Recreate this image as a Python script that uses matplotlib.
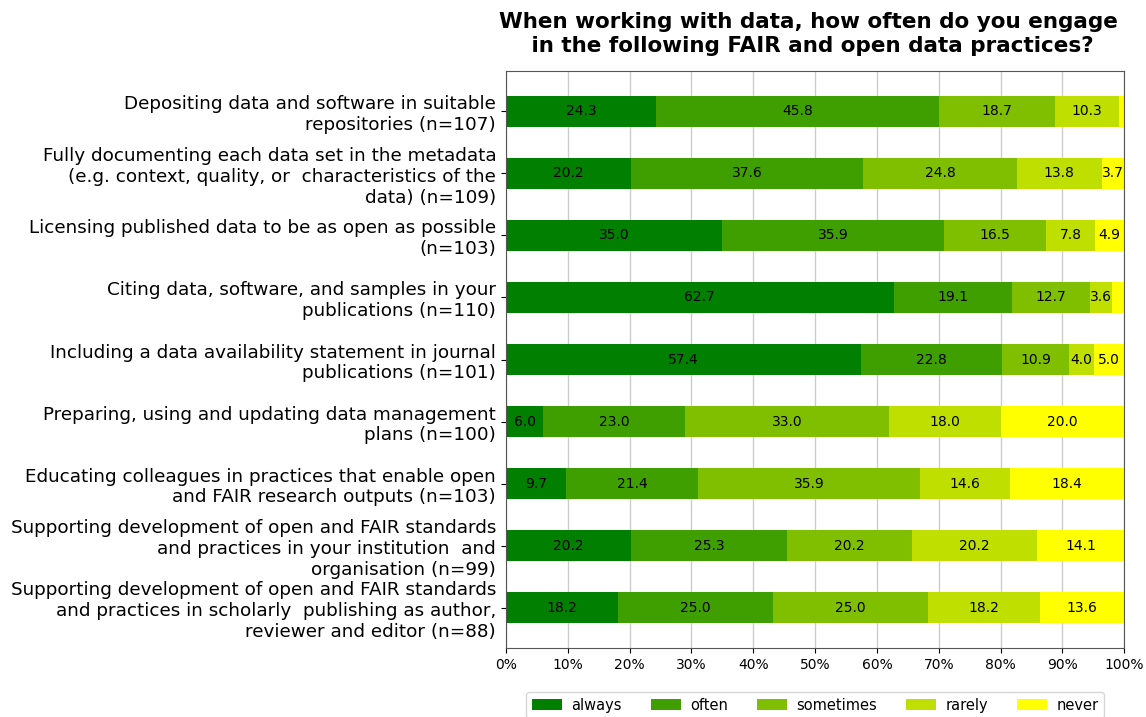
import numpy as np
import matplotlib
matplotlib.use('Agg')
import matplotlib.pyplot as plt

questions = [
    'Depositing data and software in suitable\nrepositories (n=107)',
    'Fully documenting each data set in the metadata\n(e.g. context, quality, or  characteristics of the\ndata) (n=109)',
    'Licensing published data to be as open as possible\n(n=103)',
    'Citing data, software, and samples in your\npublications (n=110)',
    'Including a data availability statement in journal\npublications (n=101)',
    'Preparing, using and updating data management\nplans (n=100)',
    'Educating colleagues in practices that enable open\nand FAIR research outputs (n=103)',
    'Supporting development of open and FAIR standards\nand practices in your institution  and\norganisation (n=99)',
    'Supporting development of open and FAIR standards\nand practices in scholarly  publishing as author,\nreviewer and editor (n=88)',
]
answers = ['always', 'often', 'sometimes', 'rarely', 'never']
always = [24.3, 20.2, 35.0, 62.7, 57.4, 6.0, 9.7, 20.2, 18.2]
often = [45.8, 37.6, 35.9, 19.1, 22.8, 23.0, 21.4, 25.3, 25.0]
sometimes = [18.7, 24.8, 16.5, 12.7, 10.9, 33.0, 35.9, 20.2, 25.0]
rarely = [10.3, 13.8, 7.8, 3.6, 4.0, 18.0, 14.6, 20.2, 18.2]
never = [0.9, 3.7, 4.9, 1.9, 5.0, 20.0, 18.4, 14.1, 13.6]
colors = ['#007f00', '#3f9f00', '#7fbf00', '#bfdf00', '#ffff00']

fig = plt.figure(figsize=(11.46, 7.17), dpi=100)
ax = fig.add_axes([0.4415, 0.0962, 0.5395, 0.8048])

y = np.arange(len(questions))
left = np.zeros(len(questions))
for name, vals, c in zip(answers, [always, often, sometimes, rarely, never], colors):
    vals = np.array(vals)
    bars = ax.barh(y, vals, left=left, height=0.5, color=c, label=name, zorder=2)
    labels = ['%.1f' % v if v >= 3 else '' for v in vals]
    ax.bar_label(bars, labels=labels, label_type='center', fontsize=10)
    left += vals

ax.set_xlim(0, 100)
ax.set_ylim(8.65, -0.65)
ax.set_yticks(y)
ax.set_yticklabels(questions, fontsize=13.2)
ax.set_xticks(np.arange(0, 101, 10))
ax.set_xticklabels(['%d%%' % t for t in range(0, 101, 10)], fontsize=10)
ax.grid(axis='x', color='#cccccc', linewidth=1, zorder=0)
for s in ax.spines.values():
    s.set_color('#555555')

ax.set_title('When working with data, how often do you engage\n in the following FAIR and open data practices?',
             fontsize=15.5, fontweight='bold', pad=14, x=0.49)
ax.legend(loc='upper center', bbox_to_anchor=(0.5, -0.063), ncol=5, fontsize=10.5,
          handlelength=2.05, handletextpad=0.64, columnspacing=2.0)

fig.savefig('out.png', dpi=100)
